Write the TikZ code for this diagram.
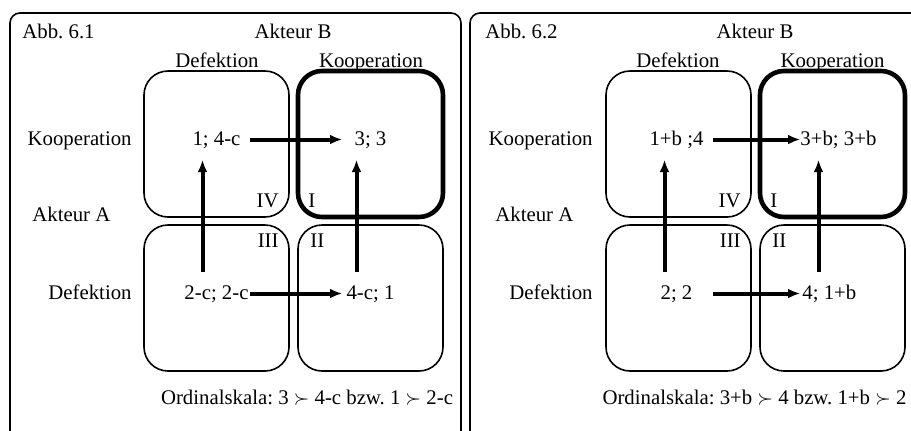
\documentclass[tikz,border=0pt]{standalone}
\usepackage{fontspec}
\setmainfont{Liberation Serif}
\usetikzlibrary{arrows.meta, positioning, calc}
\frenchspacing

\begin{document}
\begin{tikzpicture}[
        x=0.5pt, y=-0.5pt,
        font=\fontsize{10.4}{12}\selectfont,
        node distance=4pt and 4.5pt,
        frame/.style={draw, line width=0.8pt, rounded corners=5pt},
        cell/.style={draw, line width=0.8pt, rounded corners=12pt, outer sep=0pt, minimum width=72.5pt, minimum height=73pt},
        best/.style={cell, line width=2.3pt},
        lbl/.style={inner sep=0pt},
        line/.style={-{Latex[length=6pt,width=5pt]}, line width=2pt}
    ]
    \useasboundingbox (0,0) rectangle (911,430);
    \clip (0,0) rectangle (911,430);

    % Left: Abb. 6.1
    \begin{scope}
    \draw[frame] (10,13) rectangle (461,450);
    \node[lbl, anchor=base west] (atitle) at (22,38) {Abb. 6.1};
    \node[lbl, anchor=base] (aB) at (293,38) {Akteur B};
    \node[lbl, anchor=base] (aBdef) at (217,67) {Defektion};
    \node[lbl, anchor=base] (aBkoop) at (371,67) {Kooperation};
    \node[lbl, anchor=base east] (aAkoop) at (132,145) {Kooperation};
    \node[lbl, anchor=base west] (aA) at (32,221) {Akteur A};
    \node[lbl, anchor=base east] (aAdef) at (132,299) {Defektion};

    % cells
    \node[cell] (aIV) at (216.5,144) {};
    \node[best, right=of aIV] (aI) {};
    \node[cell, below=of aIV] (aIII) {};
    \node[cell, below=of aI] (aII) {};
    \node[lbl, anchor=base east, xshift=-5pt, yshift=5pt] at (aIV.south east) {IV};
    \node[lbl, anchor=base west, xshift=5pt, yshift=5pt] at (aI.south west) {I};
    \node[lbl, anchor=base east, xshift=-5pt, yshift=-11pt] at (aIII.north east) {III};
    \node[lbl, anchor=base west, xshift=6pt, yshift=-11pt] at (aII.north west) {II};

    % payoffs
    \node[lbl, anchor=base, yshift=-0.5pt] (aKD) at (aIV.center) {1; 4-c};
    \node[lbl, anchor=base, yshift=-0.5pt] (aKK) at (aI.center) {3; 3};
    \node[lbl, anchor=base, yshift=-0.5pt] (aDD) at (aIII.center) {2-c; 2-c};
    \node[lbl, anchor=base, yshift=-0.5pt] (aDK) at (aII.center) {4-c; 1};

    % Arrows
    \draw[line] ($(aIV.center)+(16.75pt,2.25pt)$) -- ($(aI.center)+(-14.25pt,2.25pt)$);
    \draw[line] ($(aIII.center)+(16.75pt,2.25pt)$) -- ($(aII.center)+(-14.25pt,2.25pt)$);
    \draw[line] ($(aIII.center)+(-7pt,13pt)$) -- ($(aIV.center)+(-7pt,-8pt)$);
    \draw[line] ($(aII.center)+(-7pt,13pt)$) -- ($(aI.center)+(-7pt,-8pt)$);

    \node[lbl, anchor=base] (aord) at (307,404) {Ordinalskala: 3 $\succ$ 4-c bzw. 1 $\succ$ 2-c};
    \end{scope}

    % Right: Abb. 6.2
    \begin{scope}[xshift=231pt]
    \draw[frame] (8,13) rectangle (463,450);
    \node[lbl, anchor=base west] (btitle) at (23,38) {Abb. 6.2};
    \node[lbl, anchor=base] (bB) at (293,38) {Akteur B};
    \node[lbl, anchor=base] (bBdef) at (216,67) {Defektion};
    \node[lbl, anchor=base] (bBkoop) at (370.5,67) {Kooperation};
    \node[lbl, anchor=base east] (bAkoop) at (131,145) {Kooperation};
    \node[lbl, anchor=base west] (bA) at (33,221) {Akteur A};
    \node[lbl, anchor=base east] (bAdef) at (131,299) {Defektion};

    % cells
    \node[cell] (bIV) at (216.5,144) {};
    \node[best, right=of bIV] (bI) {};
    \node[cell, below=of bIV] (bIII) {};
    \node[cell, below=of bI] (bII) {};
    \node[lbl, anchor=base east, xshift=-5pt, yshift=5pt] at (bIV.south east) {IV};
    \node[lbl, anchor=base west, xshift=5pt, yshift=5pt] at (bI.south west) {I};
    \node[lbl, anchor=base east, xshift=-5pt, yshift=-11pt] at (bIII.north east) {III};
    \node[lbl, anchor=base west, xshift=6pt, yshift=-11pt] at (bII.north west) {II};

    % payoffs
    \node[lbl, anchor=base, yshift=-0.5pt, xshift=-1pt] (bKD) at (bIV.center) {1+b ;4};
    \node[lbl, anchor=base west, yshift=-0.5pt, xshift=-16.25pt] (bKK) at (bI.center) {3+b; 3+b};
    \node[lbl, anchor=base, yshift=-0.5pt, xshift=-1pt] (bDD) at (bIII.center) {2; 2};
    \node[lbl, anchor=base west, yshift=-0.5pt, xshift=-15.25pt] (bDK) at (bII.center) {4; 1+b};

    % Arrows
    \draw[line] ($(bIV.center)+(17.25pt,2.25pt)$) -- (bKK.west |- {$(bI.center)+(0,2.25pt)$});
    \draw[line] ($(bIII.center)+(17.25pt,2.25pt)$) -- ($(bII.center)+(-16.25pt,2.25pt)$);
    \draw[line] ($(bIII.center)+(-7pt,13pt)$) -- ($(bIV.center)+(-7pt,-8pt)$);
    \draw[line] ($(bII.center)+(-7pt,13pt)$) -- ($(bI.center)+(-7pt,-8pt)$);

    \node[lbl, anchor=base] (bord) at (292.5,404) {Ordinalskala: 3+b $\succ$ 4 bzw. 1+b $\succ$ 2};
    \end{scope}

\end{tikzpicture}
\end{document}
